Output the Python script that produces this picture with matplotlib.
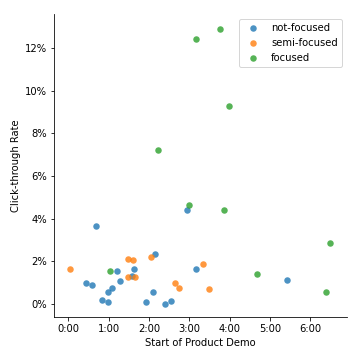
import matplotlib
matplotlib.use('Agg')
import matplotlib.pyplot as plt
from matplotlib.ticker import FuncFormatter, MultipleLocator, PercentFormatter

# start of product demo in seconds, click-through rate as fraction
not_focused_x = [41.7, 26.8, 35.7, 50.6, 59.5, 59.5, 65.5, 72.9, 77.4, 98.2, 94.9,
                 129.5, 126.5, 116.0, 144.3, 153.3, 176.6, 190.5, 325.9]
not_focused_y = [0.0365, 0.0097, 0.0092, 0.0019, 0.0055, 0.0008, 0.0075, 0.0155, 0.0108,
                 0.0167, 0.0133, 0.0235, 0.0059, 0.0008, 0.0003, 0.0013, 0.0440, 0.0167, 0.0111]

semi_focused_x = [3.0, 89.3, 96.7, 89.3, 99.7, 123.5, 159.2, 165.2, 200.9, 209.8]
semi_focused_y = [0.0167, 0.0210, 0.0205, 0.0127, 0.0127, 0.0219, 0.0097, 0.0078, 0.0186, 0.0069]

focused_x = [62.5, 180.0, 232.1, 281.3, 389.9, 383.9, 190.5, 133.9, 226.2, 239.6]
focused_y = [0.0155, 0.0465, 0.0440, 0.0139, 0.0285, 0.0055, 0.1243, 0.0722, 0.1290, 0.0928]

groups = [
    ('not-focused', not_focused_x, not_focused_y, '#1f77b4'),
    ('semi-focused', semi_focused_x, semi_focused_y, '#ff7f0e'),
    ('focused', focused_x, focused_y, '#2ca02c'),
]

fig = plt.figure(figsize=(5, 5), dpi=72)
ax = fig.add_axes([0.151, 0.119, 0.812, 0.842])

for name, xs, ys, c in groups:
    ax.scatter(xs, ys, s=42, color=c, alpha=0.8, linewidths=0, label=name)

ax.set_xlim(-20.8, 414)
ax.set_ylim(-0.0061, 0.136)

ax.xaxis.set_major_locator(MultipleLocator(60))
ax.xaxis.set_major_formatter(FuncFormatter(lambda v, p: f"{int(v // 60)}:{int(v % 60):02d}"))
ax.yaxis.set_major_locator(MultipleLocator(0.02))
ax.yaxis.set_major_formatter(PercentFormatter(1, decimals=0))

ax.spines['top'].set_visible(False)
ax.spines['right'].set_visible(False)

ax.set_xlabel('Start of Product Demo')
ax.set_ylabel('Click-through Rate')
ax.legend(loc='upper right')

fig.savefig('out.png', dpi=72)
